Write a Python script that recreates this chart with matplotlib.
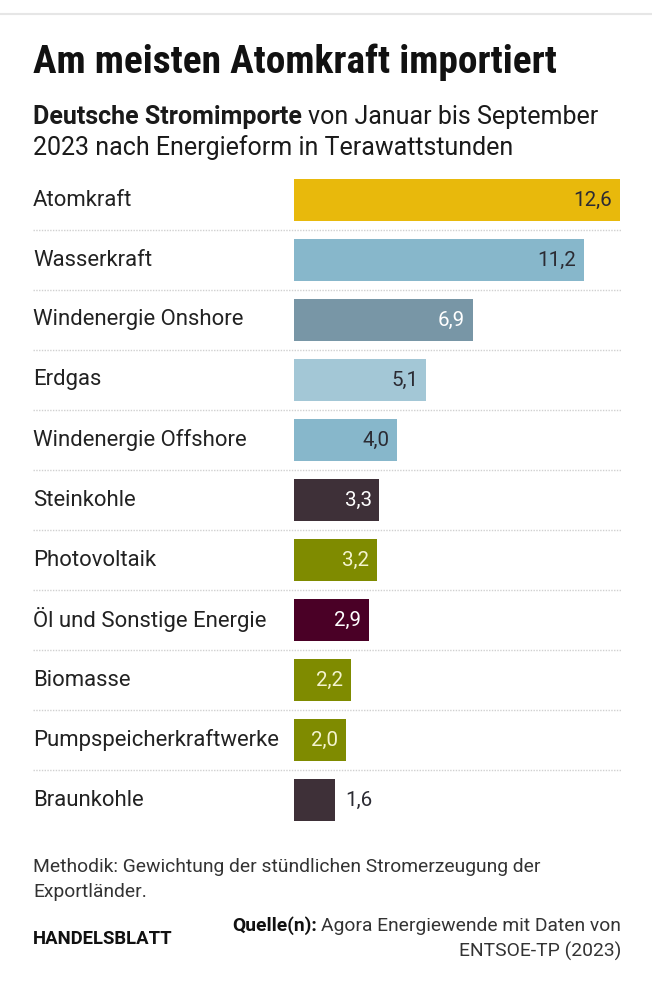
import matplotlib
matplotlib.use('Agg')
import matplotlib.pyplot as plt
from matplotlib import font_manager
import matplotlib.transforms as mtransforms

# Daten
kategorien = ['Atomkraft', 'Wasserkraft', 'Windenergie Onshore', 'Erdgas',
              'Windenergie Offshore', 'Steinkohle', 'Photovoltaik',
              'Öl und Sonstige Energie', 'Biomasse', 'Pumpspeicherkraftwerke',
              'Braunkohle']
werte = [12.6, 11.2, 6.9, 5.1, 4.0, 3.3, 3.2, 2.9, 2.2, 2.0, 1.6]
farben = ['#E8B90C', '#87B7CB', '#7896A6', '#A3C7D6', '#87B7CB', '#3E3038',
          '#7F8B00', '#4A0026', '#7F8B00', '#7F8B00', '#3E3038']
farben_text = ['#2b2b33', '#2b2b33', 'white', '#2b2b33', '#2b2b33', 'white',
               '#f4f4cf', 'white', '#f4f4cf', '#f4f4cf', '#2b2b33']

verfuegbar = {f.name for f in font_manager.fontManager.ttflist}
schrift = 'Roboto' if 'Roboto' in verfuegbar else 'DejaVu Sans'
titel_schrift = 'DejaVu Sans'
for kandidat in ['Roboto Condensed', 'Liberation Sans Narrow', 'Roboto']:
    if kandidat in verfuegbar:
        titel_schrift = kandidat
        break

plt.rcParams['font.family'] = [schrift, 'DejaVu Sans']

W, H = 652, 1000
fig = plt.figure(figsize=(W / 100, H / 100), dpi=100)
fig.patch.set_facecolor('white')


def fx(px):
    return px / W


def fy(py):
    return 1 - py / H


# graue Linie oben
fig.add_artist(plt.Line2D([0, 1], [fy(14), fy(14)], color='#e6e6e6', linewidth=1.5))

# Titel
fig.text(fx(33), fy(73), 'Am meisten Atomkraft importiert', fontsize=28.4,
         fontweight='bold', family=titel_schrift, color='#111111', va='baseline')

# Untertitel (fett + normal)
renderer = fig.canvas.get_renderer()
t1 = fig.text(fx(33), fy(124), 'Deutsche Stromimporte', fontsize=18,
              fontweight='bold', color='#1a1a1a', va='baseline')
bb = t1.get_window_extent(renderer)
fig.text(bb.x1 / W + fx(6), fy(124), 'von Januar bis September', fontsize=18,
         color='#1a1a1a', va='baseline')
fig.text(fx(33), fy(155), '2023 nach Energieform in Terawattstunden', fontsize=18,
         color='#1a1a1a', va='baseline')

# Balkendiagramm
ax = fig.add_axes([fx(294), fy(830), fx(620) - fx(294), fy(170) - fy(830)])
y = list(range(len(werte)))
ax.barh(y, werte, height=0.7, color=farben)
ax.set_xlim(0, 12.6)
ax.set_ylim(len(werte) - 0.5, -0.5)
ax.axis('off')

trans = mtransforms.blended_transform_factory(fig.transFigure, ax.transData)
for i, (kat, wert) in enumerate(zip(kategorien, werte)):
    ax.text(fx(33), i, kat, transform=trans, fontsize=15.9, color='#222222',
            va='center', ha='left')
    label = f'{wert:.1f}'.replace('.', ',')
    if wert >= 2.0:
        ax.text(wert - 0.3, i, label, fontsize=14.8, color=farben_text[i],
                va='center', ha='right')
    else:
        ax.text(wert + 0.38, i, label, fontsize=14.8, color=farben_text[i],
                va='center', ha='left')
    if i < len(werte) - 1:
        ax.plot([fx(33), fx(621)], [i + 0.5, i + 0.5], transform=trans,
                color='#d0d0d0', linewidth=1, linestyle=(0, (1, 1)), clip_on=False)

# Fußzeile
fig.text(fx(33), fy(872), 'Methodik: Gewichtung der stündlichen Stromerzeugung der',
         fontsize=13.9, color='#333333', va='baseline')
fig.text(fx(33), fy(897), 'Exportländer.', fontsize=13.9, color='#333333', va='baseline')
fig.text(fx(33), fy(944), 'HANDELSBLATT', fontsize=13.3, fontweight='bold',
         color='#111111', va='baseline')

t2 = fig.text(fx(621), fy(931), 'Agora Energiewende mit Daten von', fontsize=13.9,
              color='#333333', va='baseline', ha='right')
bb2 = t2.get_window_extent(renderer)
fig.text(bb2.x0 / W - fx(4), fy(931), 'Quelle(n):', fontsize=13.9, fontweight='bold',
         color='#111111', va='baseline', ha='right')
fig.text(fx(621), fy(957), 'ENTSOE-TP (2023)', fontsize=13.9, color='#333333',
         va='baseline', ha='right')

fig.savefig('out.png', dpi=100, facecolor='white')
